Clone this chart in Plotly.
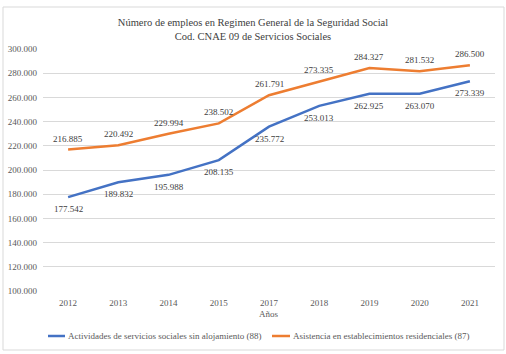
import plotly.graph_objects as go

years = ["2012", "2013", "2014", "2015", "2017", "2018", "2019", "2020", "2021"]
sin_aloj = [177542, 189832, 195988, 208135, 235772, 253013, 262925, 263070, 273339]
residenciales = [216885, 220492, 229994, 238502, 261791, 273335, 284327, 281532, 286500]
y_ticks = [100000, 120000, 140000, 160000, 180000, 200000, 220000, 240000, 260000, 280000, 300000]
names = ["Actividades de servicios sociales sin alojamiento (88)",
         "Asistencia en establecimientos residenciales (87)"]
colors = ["#4472C4", "#ED7D31"]

def fmt(v):
    return f"{v:,}".replace(",", ".")

FONT = "Liberation Serif, Times New Roman, serif"
L, R, T, B = 43, 11, 49, 63
W, H = 506, 354
PW, PH = W - L - R, H - T - B

def px(x):
    return (x - L) / PW

def py(y):
    return (H - B - y) / PH

fig = go.Figure()
for vals, name, col in [(sin_aloj, names[0], colors[0]), (residenciales, names[1], colors[1])]:
    fig.add_trace(go.Scatter(x=years, y=vals, mode="lines", name=name,
                             line=dict(color=col, width=2.5), showlegend=False))

annotations = []
for vals, shift in [(sin_aloj, -12), (residenciales, 11)]:
    for i, v in enumerate(vals):
        annotations.append(dict(text=fmt(v), x=i, y=v, xref="x", yref="y", yshift=shift,
                                showarrow=False, xanchor="center", yanchor="middle",
                                font=dict(family=FONT, size=9, color="#404040")))
annotations.append(dict(text="Años", xref="paper", yref="paper", x=0.5, y=py(314),
                        xanchor="center", yanchor="middle", showarrow=False,
                        font=dict(family=FONT, size=9, color="#595959")))

shapes = [dict(type="rect", xref="paper", yref="paper",
               x0=px(3), x1=px(504), y0=py(350), y1=py(7),
               line=dict(color="#D9D9D9", width=1), fillcolor="rgba(0,0,0,0)", layer="below")]

# manual legend
leg_y = py(336)
for (x0, x1), name, col in [((48, 65), names[0], colors[0]), ((272, 290), names[1], colors[1])]:
    shapes.append(dict(type="line", xref="paper", yref="paper", x0=px(x0), x1=px(x1),
                       y0=leg_y, y1=leg_y, line=dict(color=col, width=2.5)))
    annotations.append(dict(text=name, xref="paper", yref="paper", x=px(x1 + 1), y=leg_y,
                            xanchor="left", yanchor="middle", showarrow=False,
                            font=dict(family=FONT, size=9, color="#595959")))

fig.update_layout(
    width=W, height=H,
    margin=dict(l=L, r=R, t=T, b=B, autoexpand=False),
    paper_bgcolor="white", plot_bgcolor="white",
    font=dict(family=FONT, size=9, color="#595959"),
    showlegend=False,
    title=dict(text="Número de empleos en Regimen General de la Seguridad Social<br>Cod. CNAE 09 de Servicios Sociales",
               x=0.5, xanchor="center", xref="container", y=0.926, yanchor="middle",
               font=dict(family=FONT, size=10.5, color="#404040")),
    xaxis=dict(type="category", categoryorder="array", categoryarray=years,
               range=[-0.5, len(years) - 0.5],
               showgrid=False, showline=False, ticks="", zeroline=False,
               automargin=False, ticklabelstandoff=5,
               tickfont=dict(family=FONT, size=9, color="#595959")),
    yaxis=dict(range=[100000, 300000], tickvals=y_ticks, ticktext=[fmt(v) for v in y_ticks],
               automargin=False, ticklabelstandoff=5,
               showgrid=True, gridcolor="#D9D9D9", gridwidth=1, zeroline=False, showline=False,
               ticks="", ticklen=0, tickfont=dict(family=FONT, size=9, color="#595959")),
    annotations=annotations,
    shapes=shapes,
)
fig.write_html("out.html")
